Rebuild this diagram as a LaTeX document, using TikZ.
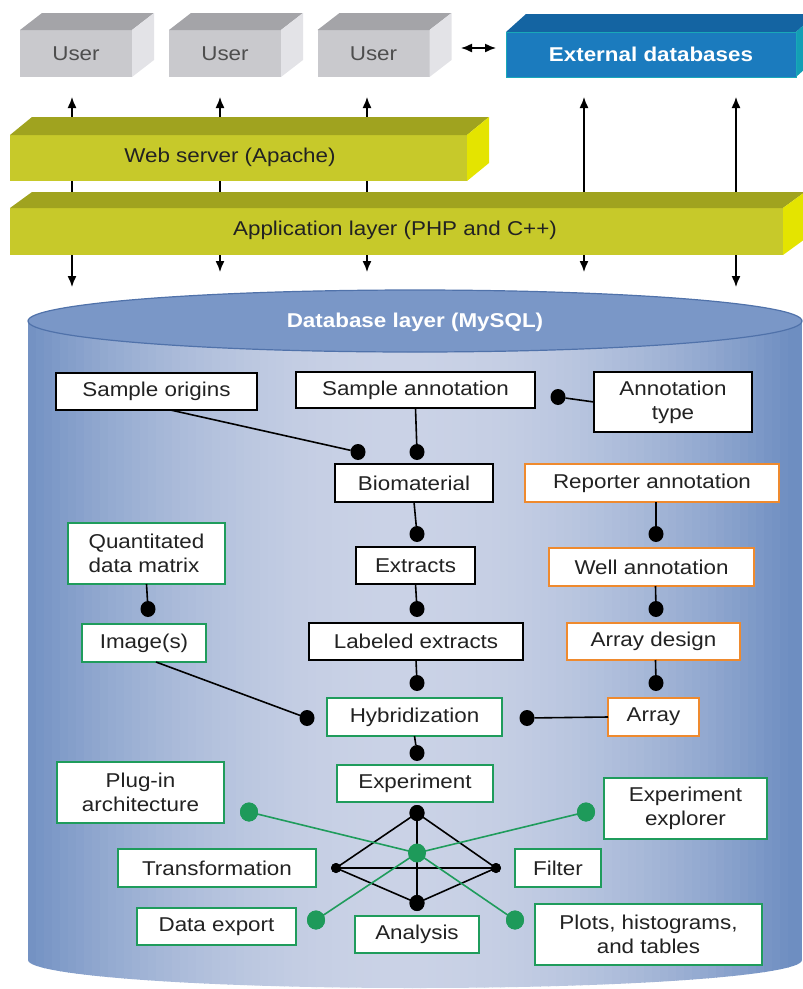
\documentclass[tikz,border=0pt]{standalone}
\usepackage{fontspec}
\setmainfont[FakeStretch=1.12]{Liberation Sans}
\usetikzlibrary{arrows.meta,calc,shapes.geometric}

\definecolor{txtcol}{HTML}{222222}
\definecolor{usrfront}{HTML}{C9C9CD}
\definecolor{usrtop}{HTML}{A4A4A8}
\definecolor{usrside}{HTML}{E3E3E7}
\definecolor{extfront}{HTML}{1B7BBE}
\definecolor{exttop}{HTML}{1464A2}
\definecolor{extside}{HTML}{139FB5}
\definecolor{extline}{HTML}{19A8B8}
\definecolor{layfront}{HTML}{C7C92A}
\definecolor{laytop}{HTML}{A0A31F}
\definecolor{layside}{HTML}{E4E400}
\definecolor{cyledge}{HTML}{6E8EC1}
\definecolor{cylmid}{HTML}{CAD2E6}
\definecolor{cyltop}{HTML}{7A97C7}
\definecolor{cylrim}{HTML}{5072AA}
\definecolor{grn}{HTML}{1F9C5C}
\definecolor{gdotcol}{HTML}{1E9A5A}
\definecolor{org}{HTML}{EF8A2E}

\newcommand\boxfont{\fontsize{20}{24}\selectfont}

% top and side faces of a slab whose front face is node #1
\newcommand\slab[4]{%
  \fill[#2] (#1.north west) -- ++(#4) -- ($(#1.north east)+(#4)$) -- (#1.north east) -- cycle;
  \fill[#3] (#1.north east) -- ++(#4) -- ($(#1.south east)+(#4)$) -- (#1.south east) -- cycle;}

\tikzset{
  front/.style={inner sep=0pt, outer sep=0pt, font=\boxfont},
  usr/.style={front, fill=usrfront, text=txtcol!80, minimum width=112pt, minimum height=47pt},
  lay/.style={front, fill=layfront, text=txtcol},
  box/.style={draw=black, fill=white, line width=1.6pt, inner sep=0pt, outer sep=0pt,
    align=center, font=\boxfont, text=txtcol},
  gbox/.style={box, draw=grn},
  obox/.style={box, draw=org},
  dot/.style={ellipse, fill=black, inner sep=0pt, outer sep=0pt, minimum width=15pt, minimum height=16pt},
  sdot/.style={circle, fill=black, inner sep=0pt, outer sep=0pt, minimum size=10pt},
  gdot/.style={ellipse, fill=gdotcol, inner sep=0pt, outer sep=0pt, minimum width=18pt, minimum height=19pt},
  link/.style={line width=1.6pt, draw=black},
  glink/.style={line width=1.6pt, draw=grn},
  arr/.style={line width=1.4pt, {Latex[length=11pt,width=9pt]}-{Latex[length=11pt,width=9pt]}}
}

\begin{document}
\begin{tikzpicture}[x=1pt, y=-1pt]
\useasboundingbox (0,0) rectangle (803,989);

% ---------- client / server arrows (behind the layers) ----------
\foreach \i/\x/\yb in {1/72/287, 2/220/272, 3/367/272, 4/584/272, 5/736/287}{
  \coordinate (up\i) at (\x,97);
  \coordinate (dn\i) at (\x,\yb);
  \draw[arr] (up\i) -- (dn\i);
}

% ---------- users and external databases ----------
\node[usr] (user1) at (76,53.5) {User};
\slab{user1}{usrtop}{usrside}{22,-17}
\node[usr] (user2) at (225,53.5) {User};
\slab{user2}{usrtop}{usrside}{22,-17}
\node[usr] (user3) at (373.5,53.5) {User};
\slab{user3}{usrtop}{usrside}{22,-17}

\node[front, fill=extfront, text=white, font=\boxfont\bfseries,
  minimum width=290pt, minimum height=45pt] (extdb) at (651,54.5) {External databases};
\slab{extdb}{exttop}{extside}{20,-18}
\draw[extline, line width=1pt] (extdb.north west) rectangle (extdb.south east);

\coordinate (xa) at (461,48);
\coordinate (xb) at (496,48);
\draw[arr] (xa) -- (xb);

% ---------- web server and application layer ----------
\node[lay, minimum width=457pt, minimum height=46pt] (web) at (238.5,158) {};
\slab{web}{laytop}{layside}{22,-18}
\node[font=\boxfont, text=txtcol] (webtxt) at (230,157) {Web server (Apache)};

\node[lay, minimum width=773pt, minimum height=47pt] (app) at (396.5,231.5) {};
\slab{app}{laytop}{layside}{22,-16}
\node[font=\boxfont, text=txtcol] (apptxt) at (395,230) {Application layer (PHP and C++)};

% ---------- database cylinder: body lit from the front ----------
\begin{scope}
  \clip (28,321) -- (28,960)
    .. controls (28,975.5) and (201.3,988) .. (415,988)
    .. controls (628.7,988) and (802,975.5) .. (802,960)
    -- (802,321) -- cycle;
  \foreach \i in {0,...,96}{
    \pgfmathsetmacro\xx{28+\i*8}
    \pgfmathsetmacro\dd{min(1,abs(\xx+4-405)/385)}
    \pgfmathsetmacro\tt{100*(1-\dd*\dd)}
    \fill[cylmid!\tt!cyledge] (\xx,300) rectangle ++(8.6,700);
  }
\end{scope}
\draw[cylrim, fill=cyltop, line width=1.2pt] (415,321) ellipse [x radius=387, y radius=31];
\node[font=\boxfont\bfseries, text=white] (dbtitle) at (415,322) {Database layer (MySQL)};

% ---------- tables ----------
\node[box, minimum width=201pt, minimum height=37pt] (sorig) at (156.5,391.5) {Sample origins};
\node[box, minimum width=239pt, minimum height=36pt] (sann) at (415.5,390) {Sample annotation};
\node[box, minimum width=158pt, minimum height=60pt] (atype) at (673,402) {Annotation\\type};
\node[box, minimum width=158pt, minimum height=38pt] (bio) at (414,483) {Biomaterial};
\node[obox, minimum width=254pt, minimum height=38pt] (repann) at (652,483) {Reporter annotation};
\node[gbox, minimum width=157pt, minimum height=61pt, align=left] (qdm) at (146.5,553.5) {Quantitated\\data matrix};
\node[gbox, minimum width=124pt, minimum height=38pt] (img) at (144,643) {Image(s)};
\node[box, minimum width=119pt, minimum height=37pt] (extr) at (415.5,565.5) {Extracts};
\node[box, minimum width=214pt, minimum height=37pt] (lext) at (416,641.5) {Labeled extracts};
\node[gbox, minimum width=175pt, minimum height=38pt] (hyb) at (414.5,717) {Hybridization};
\node[obox, minimum width=91pt, minimum height=38pt] (array) at (653.5,717) {Array};
\node[obox, minimum width=173pt, minimum height=37pt] (adesign) at (653.5,641.5) {Array design};
\node[obox, minimum width=205pt, minimum height=38pt] (wann) at (651.5,567) {Well annotation};
\node[gbox, minimum width=156pt, minimum height=37pt] (expt) at (415,783.5) {Experiment};
\node[gbox, minimum width=167pt, minimum height=61pt] (plug) at (140.5,792.5) {Plug-in\\architecture};
\node[gbox, minimum width=163pt, minimum height=61pt] (explr) at (685.5,808.5) {Experiment\\explorer};
\node[gbox, minimum width=198pt, minimum height=38pt] (transf) at (217,868) {Transformation};
\node[gbox, minimum width=86pt, minimum height=38pt] (filter) at (558,868) {Filter};
\node[gbox, minimum width=159pt, minimum height=37pt] (dexp) at (216.5,926.5) {Data export};
\node[gbox, minimum width=124pt, minimum height=37pt] (anal) at (417,934.5) {Analysis};
\node[gbox, minimum width=227pt, minimum height=61pt] (plots) at (648.5,934.5) {Plots, histograms,\\and tables};

% ---------- relationship ends ----------
\node[dot] (dsorig) at (358,452) {};
\node[dot] (dsann) at (417,452) {};
\node[dot] (datype) at (558,397) {};
\node[dot] (dextr) at (417,534) {};
\node[dot] (dlext) at (417,609) {};
\node[dot] (dhyb) at (417,683) {};
\node[dot] (dhybl) at (307,718) {};
\node[dot] (dhybr) at (527,718) {};
\node[dot] (dqdm) at (148,609) {};
\node[dot] (dwann) at (656,534) {};
\node[dot] (dadesign) at (656,609) {};
\node[dot] (darray) at (656,683) {};
\node[dot] (dexpt) at (417,753) {};

\draw[link] ([xshift=14pt]sorig.south) -- (dsorig);
\draw[link] (sann.south) -- (dsann);
\draw[link] (atype.west) -- (datype);
\draw[link] (bio.south) -- (dextr);
\draw[link] (extr.south) -- (dlext);
\draw[link] (lext.south) -- (dhyb);
\draw[link] ([xshift=12pt]img.south) -- (dhybl);
\draw[link] (array.west) -- (dhybr);
\draw[link] (hyb.south) -- (dexpt);
\draw[link] (qdm.south) -- (dqdm);
\draw[link] ([xshift=4pt]repann.south) -- (dwann);
\draw[link] ([xshift=4pt]wann.south) -- (dadesign);
\draw[link] ([xshift=2pt]adesign.south) -- (darray);

% ---------- analysis pyramid ----------
\node[dot] (ptop) at (417,813) {};
\node[sdot] (pleft) at (336,868) {};
\node[sdot] (pright) at (496,868) {};
\node[dot] (pbot) at (417,903) {};
\draw[link] (ptop.center) -- (pleft.center) -- (pbot.center) -- (pright.center) -- cycle;
\draw[link] (ptop.center) -- (pbot.center);
\draw[link] (pleft.center) -- (pright.center);
\node[dot] at (ptop) {};
\node[dot] at (pbot) {};
\node[sdot] at (pleft) {};
\node[sdot] at (pright) {};

% ---------- plug-in hub ----------
\node[gdot] (gplug) at (249,812) {};
\node[gdot] (gexplr) at (586,812) {};
\node[gdot] (gdexp) at (316,920) {};
\node[gdot] (gplots) at (515,920) {};
\draw[glink] (gplug.center) -- (417,853) coordinate (hub);
\draw[glink] (gexplr.center) -- (hub);
\draw[glink] (gdexp.center) -- (hub);
\draw[glink] (gplots.center) -- (hub);
\node[gdot] (ghub) at (hub) {};
\node[gdot] at (gplug) {};
\node[gdot] at (gexplr) {};
\node[gdot] at (gdexp) {};
\node[gdot] at (gplots) {};
\end{tikzpicture}
\end{document}
